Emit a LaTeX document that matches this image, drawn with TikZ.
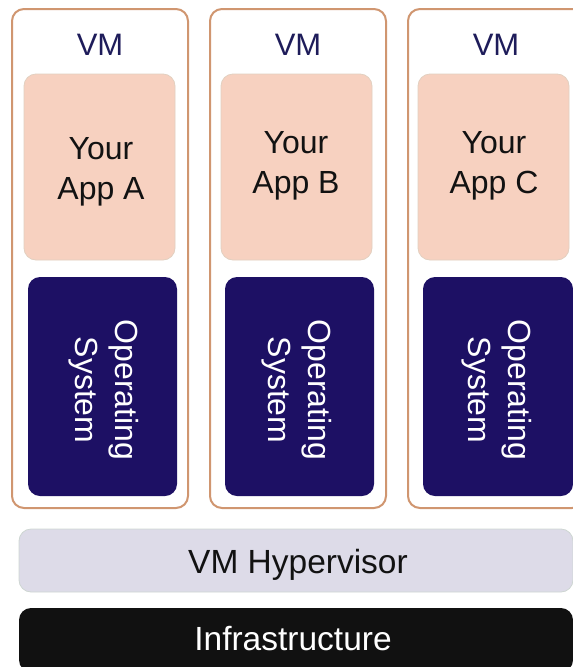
\documentclass[tikz,border=0pt]{standalone}
\usepackage{fontspec}
\setmainfont{Liberation Sans}
\definecolor{vmborder}{RGB}{208,150,112}
\definecolor{appfill}{RGB}{247,209,192}
\definecolor{appdraw}{RGB}{226,208,192}
\definecolor{osfill}{RGB}{29,16,100}
\definecolor{vmtext}{RGB}{30,28,90}
\definecolor{hypfill}{RGB}{221,219,232}
\definecolor{hypdraw}{RGB}{206,214,210}
\definecolor{infrafill}{RGB}{17,17,17}
\definecolor{darktext}{RGB}{18,18,18}
\begin{document}
\begin{tikzpicture}[x=1pt,y=-1pt,
  box/.style={rectangle, rounded corners=12pt, anchor=north west, inner sep=0pt, outer sep=0pt},
  vmbox/.style={box, draw=vmborder, line width=2pt, fill=white, minimum width=176pt, minimum height=499pt},
  appbox/.style={box, draw=appdraw, line width=0.8pt, fill=appfill, minimum width=151pt, minimum height=186pt},
  osbox/.style={box, fill=osfill, minimum width=149pt, minimum height=219pt},
  hypbox/.style={box, draw=hypdraw, line width=0.8pt, fill=hypfill, minimum width=554pt, minimum height=63pt},
  infrabox/.style={box, fill=infrafill, minimum width=554pt, minimum height=64pt},
  vmlabel/.style={anchor=base, inner sep=0pt, text=vmtext, font=\fontsize{31}{37}\selectfont},
  applabel/.style={anchor=base, inner sep=0pt, text=darktext, font=\fontsize{32}{40}\selectfont},
  oslabel/.style={anchor=center, inner sep=0pt, rotate=-90, align=center, text=white, font=\fontsize{32}{40}\selectfont},
  barlabel/.style={anchor=base, inner sep=0pt, font=\fontsize{33.5}{40}\selectfont}
]
\useasboundingbox (0,0) rectangle (573,667);
\clip (0,0) rectangle (573,667);

% VM frames
\node[vmbox] (vm1) at (12,9) {};
\node[vmbox] (vm2) at (210,9) {};
\node[vmbox] (vm3) at (408,9) {};

\node[vmlabel] (vm1t) at (100,55) {VM};
\node[vmlabel] (vm2t) at (298,55) {VM};
\node[vmlabel] (vm3t) at (496,55) {VM};

% App boxes
\node[appbox] (app1) at (24,74) {};
\node[appbox] (app2) at (221,74) {};
\node[appbox] (app3) at (418,74) {};

\node[applabel] (app1a) at (101,159) {Your};
\node[applabel] (app1b) at (101,199) {App A};
\node[applabel] (app2a) at (296,153) {Your};
\node[applabel] (app2b) at (296,193) {App B};
\node[applabel] (app3a) at (494,153) {Your};
\node[applabel] (app3b) at (494,193) {App C};

% OS boxes
\node[osbox] (os1) at (28,277) {};
\node[osbox] (os2) at (225,277) {};
\node[osbox, minimum width=150pt] (os3) at (423,277) {};

\node[oslabel] (os1t) at (104,390) {Operating\\System};
\node[oslabel] (os2t) at (297,390) {Operating\\System};
\node[oslabel] (os3t) at (497,390) {Operating\\System};

% Hypervisor and infrastructure
\node[hypbox] (hyp) at (19,529) {};
\node[barlabel, text=darktext] (hypt) at (298,573) {VM Hypervisor};
\node[infrabox] (infra) at (19,608) {};
\node[barlabel, text=white] (infrat) at (293,650) {Infrastructure};
\end{tikzpicture}
\end{document}
